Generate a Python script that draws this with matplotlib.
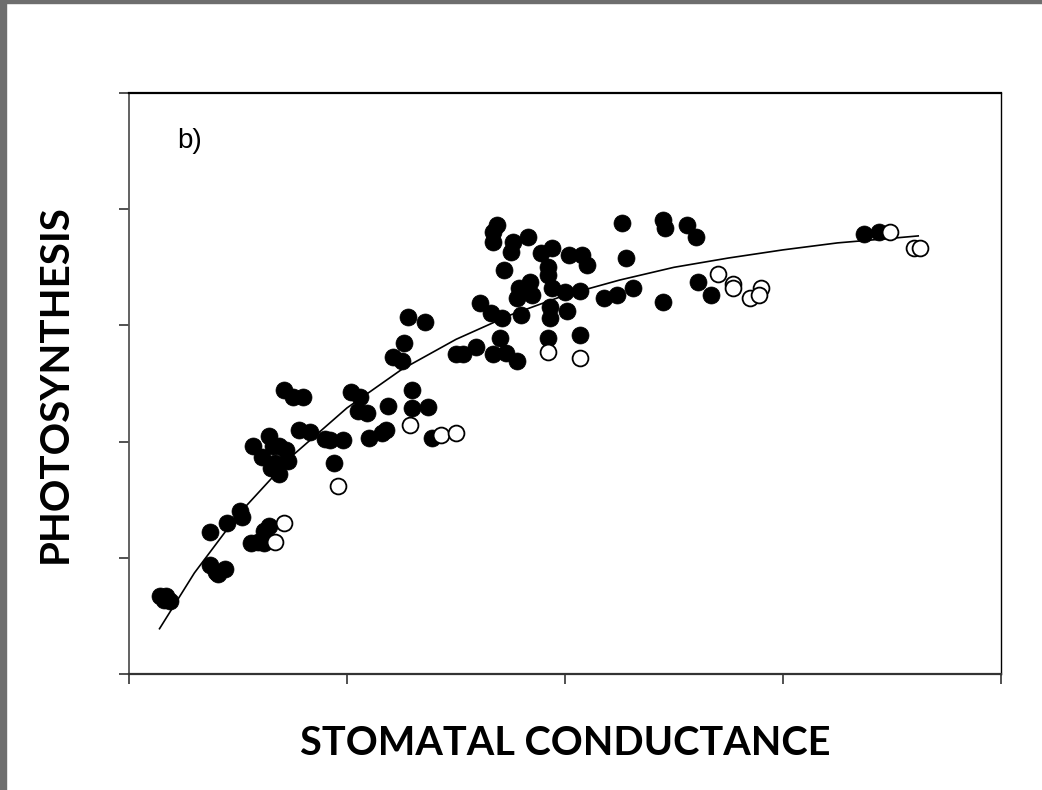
#!/usr/bin/env python3
"""Photosynthesis vs stomatal conductance scatter with saturating fit, panel b)."""

import matplotlib

matplotlib.use("Agg")
import matplotlib.pyplot as plt
from matplotlib.patches import Rectangle

# filled circles (stomatal conductance, photosynthesis), arbitrary units
filled_x = [
    0.14, 0.17, 0.19, 0.16,
    0.37, 0.40, 0.44, 0.41,
    0.37, 0.45, 0.51, 0.52, 0.56, 0.59, 0.62, 0.62, 0.64,
    0.57, 0.64, 0.66, 0.61, 0.69, 0.72, 0.73, 0.67, 0.69, 0.65,
    0.78, 0.83, 0.90, 0.98, 0.94, 0.92,
    0.71, 0.75, 0.80,
    1.02, 1.06, 1.05, 1.09, 1.19, 1.30, 1.30, 1.37, 1.18, 1.16, 1.10, 1.39,
    1.28, 1.36, 1.26, 1.21, 1.25, 1.50, 1.53, 1.59, 1.67, 1.70, 1.73, 1.78,
    1.61, 1.66, 1.71, 1.80, 1.93, 1.93, 2.01, 1.92, 2.07,
    1.69, 1.67, 1.67, 1.76, 1.83, 1.75, 1.89, 1.94, 2.02, 2.08, 2.10,
    1.72, 1.92, 1.92, 1.84, 1.79, 1.78, 1.85, 1.94, 2.00, 2.07,
    2.18, 2.24, 2.31, 2.26, 2.28, 2.45, 2.46, 2.56, 2.60, 2.45, 2.61, 2.67,
    3.37, 3.44,
]
filled_y = [
    0.67, 0.67, 0.63, 0.64,
    0.94, 0.88, 0.90, 0.86,
    1.22, 1.30, 1.40, 1.35, 1.13, 1.14, 1.13, 1.23, 1.27,
    1.96, 2.05, 1.96, 1.87, 1.96, 1.93, 1.83, 1.82, 1.72, 1.77,
    2.10, 2.08, 2.02, 2.01, 1.82, 2.01,
    2.44, 2.38, 2.38,
    2.43, 2.38, 2.26, 2.25, 2.31, 2.44, 2.29, 2.30, 2.10, 2.07, 2.03, 2.03,
    3.07, 3.03, 2.85, 2.73, 2.69, 2.75, 2.75, 2.81, 2.75, 2.89, 2.76, 2.69,
    3.19, 3.11, 3.06, 3.09, 3.16, 3.06, 3.12, 2.89, 2.92,
    3.86, 3.80, 3.72, 3.72, 3.76, 3.63, 3.62, 3.67, 3.61, 3.61, 3.52,
    3.48, 3.50, 3.43, 3.37, 3.32, 3.24, 3.26, 3.32, 3.29, 3.30,
    3.24, 3.26, 3.32, 3.88, 3.58, 3.91, 3.84, 3.86, 3.76, 3.20, 3.37, 3.26,
    3.79, 3.80,
]

# open circles
open_x = [0.71, 0.67, 0.96, 1.29, 1.43, 1.50, 1.92, 2.07,
          2.70, 2.77, 2.77, 2.85, 2.90, 2.89, 3.49, 3.60, 3.63]
open_y = [1.30, 1.14, 1.62, 2.14, 2.06, 2.07, 2.77, 2.72,
          3.44, 3.36, 3.32, 3.24, 3.32, 3.26, 3.80, 3.67, 3.67]

# fitted curve
fit_x = [0.14, 0.30, 0.50, 0.75, 1.00, 1.25, 1.50, 1.75, 2.00,
         2.25, 2.50, 2.75, 3.00, 3.25, 3.50, 3.62]
fit_y = [0.39, 0.87, 1.37, 1.88, 2.29, 2.62, 2.88, 3.09, 3.26,
         3.39, 3.50, 3.58, 3.65, 3.71, 3.75, 3.77]

x_ticks = [0, 1, 2, 3, 4]
y_ticks = [0, 1, 2, 3, 4, 5]

fig = plt.figure(figsize=(10.42, 7.90), dpi=100)
ax = fig.add_axes([0.1238, 0.1468, 0.8369, 0.7355])

ax.plot(fit_x, fit_y, color="black", linewidth=1.2, zorder=2)
ax.scatter(filled_x, filled_y, s=150, c="black", edgecolors="black",
           linewidths=0.5, zorder=3)
ax.scatter(open_x, open_y, s=130, facecolors="white", edgecolors="black",
           linewidths=1.3, zorder=4)

ax.set_xlim(0, 4)
ax.set_ylim(0, 5)
ax.set_xticks(x_ticks)
ax.set_yticks(y_ticks)
ax.tick_params(direction="out", length=7, width=1.2, color="#333333",
               labelbottom=False, labelleft=False)
ax.spines["left"].set_color("#555555")
ax.spines["left"].set_linewidth(1.3)
ax.spines["top"].set_linewidth(1.6)
ax.spines["bottom"].set_linewidth(1.6)
ax.spines["bottom"].set_color("#333333")
ax.spines["right"].set_linewidth(1.0)

ax.text(0.055, 0.94, "b)", transform=ax.transAxes, fontsize=20,
        family="Liberation Sans", va="top", ha="left")

ax.set_xlabel("STOMATAL CONDUCTANCE", fontsize=28.5, fontweight="bold",
              family="Lato", labelpad=30)
ax.set_ylabel("PHOTOSYNTHESIS", fontsize=29, fontweight="bold",
              family="Lato", labelpad=33)

# grey photo border at the left and top edges
fig.patches.append(Rectangle((0, 0), 0.006, 1, transform=fig.transFigure,
                             color="#6e6e6e", zorder=0))
fig.patches.append(Rectangle((0, 0.996), 1, 0.004, transform=fig.transFigure,
                             color="#6e6e6e", zorder=0))

fig.savefig("out.png", dpi=100)
